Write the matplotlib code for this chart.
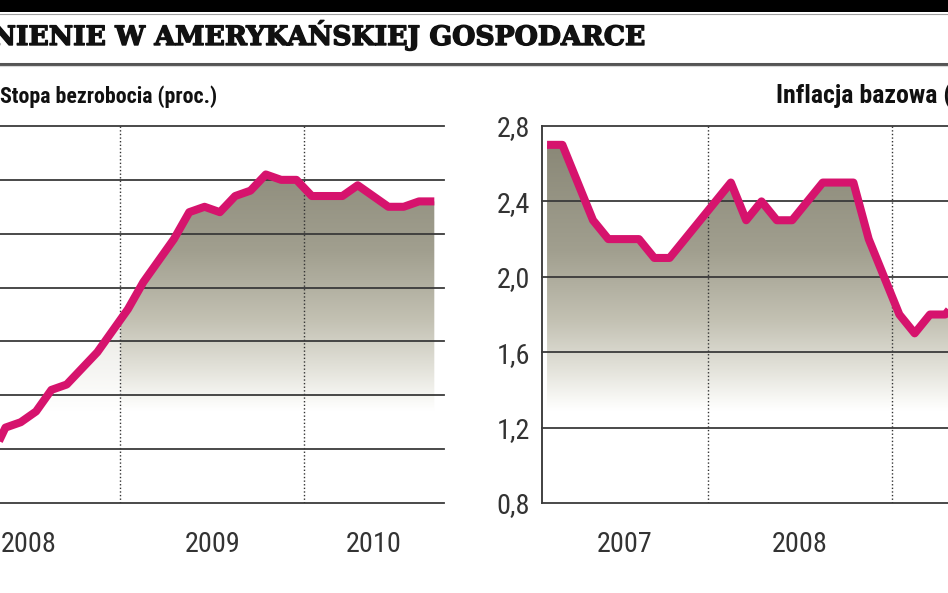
import numpy as np
import matplotlib
matplotlib.use("Agg")
import matplotlib.pyplot as plt
from matplotlib import font_manager as fm
from matplotlib import patheffects as pe
from matplotlib.patches import Rectangle
from matplotlib.lines import Line2D
from matplotlib.colors import to_rgb

# ---------------- data ----------------
heading = "SPOWOLNIENIE W AMERYKAŃSKIEJ GOSPODARCE"
heading_visible = "IENIE W AMERYKAŃSKIEJ GOSPODARCE"
left_title = "Stopa bezrobocia (proc.)"
right_title = "Inflacja bazowa (proc.)"

# unemployment rate (%), monthly, first value = Jan 2008
unemp = [5.0, 4.9, 5.1, 4.8, 5.4, 5.5, 5.7, 6.1, 6.2, 6.5, 6.8, 7.2,
         7.6, 8.1, 8.5, 8.9, 9.4, 9.5, 9.4, 9.7, 9.8, 10.1, 10.0, 10.0,
         9.7, 9.7, 9.7, 9.9, 9.7, 9.5, 9.5, 9.6, 9.6]
unemp_first_month = 0
unemp_years = ["2008", "2009", "2010"]
unemp_yticks = [4, 5, 6, 7, 8, 9, 10, 11]

# core inflation (%), monthly
infl = [2.7, 2.7, 2.5, 2.3, 2.2, 2.2, 2.2, 2.1, 2.1, 2.2, 2.3, 2.4,
        2.5, 2.3, 2.4, 2.3, 2.3, 2.4, 2.5, 2.5, 2.5, 2.2, 2.0, 1.8,
        1.7, 1.8, 1.8, 1.9]
infl_first_month = 1
infl_years = ["2007", "2008"]
infl_yticks = [0.8, 1.2, 1.6, 2.0, 2.4, 2.8]

# ---------------- style ----------------
W, H = 948, 593
LINE_C = "#d6136d"
GRID_C = "#3a3a3a"
TXT_C = "#333333"


def has_font(name):
    try:
        fm.findfont(fm.FontProperties(family=name), fallback_to_default=False)
        return True
    except Exception:
        return False


narrow = next((f for f in ["Liberation Sans Narrow", "Roboto Condensed",
                           "Open Sans Condensed", "Noto Sans"] if has_font(f)),
              "DejaVu Sans")
serif = next((f for f in ["DejaVu Serif", "Liberation Serif"] if has_font(f)),
             "serif")

fig = plt.figure(figsize=(W / 100, H / 100), dpi=100)
fig.patch.set_facecolor("white")
renderer = fig.canvas.get_renderer()


def px_x(x):
    return x / W


def px_y(y):
    return 1 - y / H


def fit_size(s, target_px, base=20, **kw):
    t = fig.text(0, 0, s, fontsize=base, **kw)
    w = t.get_window_extent(renderer).width
    t.remove()
    return base * target_px / w


# header band
fig.add_artist(Rectangle((0, px_y(12)), 1, 12 / H, transform=fig.transFigure,
                         facecolor="black", edgecolor="none"))
fig.add_artist(Line2D([0, 1], [px_y(13.5)] * 2, transform=fig.transFigure,
                      color="#a0a0a0", lw=0.8))
fig.add_artist(Line2D([0, 1], [px_y(63.5)] * 2, transform=fig.transFigure,
                      color="#555555", lw=2.2))
fig.add_artist(Line2D([0, 1], [px_y(66)] * 2, transform=fig.transFigure,
                      color="#d8d8d8", lw=0.8))

hs = fit_size(heading_visible, 628, family=serif, weight="bold")
fig.text(px_x(645), px_y(45), heading, fontsize=hs, family=serif,
         weight="bold", color="#111111", ha="right", va="baseline",
         path_effects=[pe.withStroke(linewidth=1.0, foreground="#111111")])

# panel titles
ts1 = fit_size(left_title, 205, family=narrow, weight="bold") * 1.06
fig.text(px_x(0), px_y(103), left_title, fontsize=ts1, family=narrow,
         weight="bold", color="#111111", ha="left", va="baseline")
ts2 = fit_size("Inflacja bazowa", 162, family=narrow, weight="bold")
fig.text(px_x(776), px_y(103), right_title, fontsize=ts2, family=narrow,
         weight="bold", color="#111111", ha="left", va="baseline")

num_size = fit_size("2007", 56, family=narrow)

# axes geometry (pixels)
ax_top, ax_bot = 126, 503
ax_w = 507
axL = fig.add_axes([px_x(-63.5), px_y(ax_bot), ax_w / W, (ax_bot - ax_top) / H])
axR = fig.add_axes([px_x(542), px_y(ax_bot), ax_w / W, (ax_bot - ax_top) / H])

# vertical gradient stops (axes fraction -> gray level)
stops_f = [0.0, 0.246, 0.272, 0.352, 0.484, 0.669, 1.0]
stops_c = ["#ffffff", "#ffffff", "#f9f9f6", "#e4e3db", "#c3c1b3",
           "#a19f8f", "#868473"]


def gradient_rgba(nrows, ncols, xs, left_sep=None):
    fr = np.linspace(0, 1, nrows)
    cols = np.array([to_rgb(c) for c in stops_c])
    rgb = np.stack([np.interp(fr, stops_f, cols[:, k]) for k in range(3)], axis=1)
    img = np.ones((nrows, ncols, 4))
    img[:, :, :3] = rgb[:, None, :]
    if left_sep is not None:
        img[:, xs < left_sep, 3] = 0.35
    return img


def draw_panel(ax, values, first_month, years, yticks, xlim, show_labels,
               light_left):
    x = np.arange(len(values)) + first_month
    y = np.array(values, dtype=float)
    y0, y1 = yticks[0], yticks[-1]
    ax.set_xlim(*xlim)
    ax.set_ylim(y0, y1)
    ax.set_facecolor("none")

    # gradient fill under the line
    poly = ax.fill_between(x, y, y0, facecolor="none", edgecolor="none")
    ncols = 400
    xs = np.linspace(x[0], x[-1], ncols)
    seps = [12 * k - 0.5 for k in range(0, 5)]
    seps = [s for s in seps if xlim[0] < s < xlim[1]]
    img = gradient_rgba(300, ncols, xs, seps[0] if light_left else None)
    im = ax.imshow(img, extent=(x[0], x[-1], y0, y1), origin="lower",
                   aspect="auto", zorder=1, interpolation="bilinear")
    im.set_clip_path(poly.get_paths()[0], transform=ax.transData)

    # year separators
    for s in seps:
        ax.axvline(s, color="#333333", lw=1.0, ls=(0, (1, 1.6)), zorder=2)

    # grid
    ax.set_yticks(yticks)
    ax.set_xticks([])
    ax.yaxis.grid(True, color=GRID_C, lw=1.3)
    ax.set_axisbelow(False)
    for gl in ax.get_ygridlines():
        gl.set_clip_on(False)
        gl.set_zorder(2.5)
    ax.tick_params(axis="y", length=0, pad=8.6, labelsize=num_size,
                   labelcolor=TXT_C)
    if show_labels:
        ax.set_yticklabels([f"{v:.1f}".replace(".", ",") for v in yticks],
                           family=narrow)
    else:
        ax.set_yticklabels([])

    for side in ["top", "right", "bottom"]:
        ax.spines[side].set_visible(False)
    ax.spines["left"].set_color("#333333")
    ax.spines["left"].set_linewidth(1.3)

    # data line
    ax.plot(x, y, color=LINE_C, lw=5.8, solid_joinstyle="round",
            solid_capstyle="butt", zorder=4)

    # year labels centred on the visible part of each year
    for k, lab in enumerate(years):
        a = max(12 * k - 0.5, xlim[0])
        b = min(12 * k + 11.5, xlim[1])
        ax.text((a + b) / 2, -42 / (ax_bot - ax_top), lab,
                transform=ax.get_xaxis_transform(), ha="center", va="center",
                fontsize=num_size, family=narrow, color=TXT_C)


draw_panel(axL, unemp, unemp_first_month, unemp_years, unemp_yticks,
           (-0.5, 32.6), False, True)
draw_panel(axR, infl, infl_first_month, infl_years, infl_yticks,
           (0.67, 33.77), True, False)

fig.savefig("out.png", dpi=100, facecolor="white")
